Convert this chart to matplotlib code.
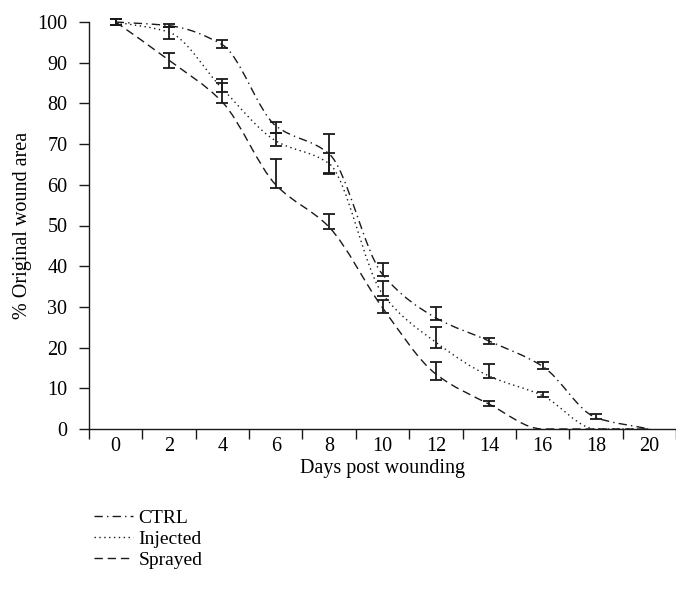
import numpy as np
import matplotlib
matplotlib.use("Agg")
import matplotlib.pyplot as plt
from matplotlib.path import Path
from matplotlib.patches import PathPatch
from matplotlib.lines import Line2D

plt.rcParams['font.family'] = ['Liberation Serif', 'DejaVu Serif']

days = [0, 2, 4, 6, 8, 10, 12, 14, 16, 18, 20]

ctrl = [100, 99.1, 94.4, 74.5, 67.6, 38.0, 27.3, 21.6, 15.4, 2.8, 0]
ctrl_lo = [0.8, 0.4, 0.9, 1.7, 4.8, 0.3, 0.5, 0.7, 0.7, 0.3, 0]
ctrl_hi = [0.8, 0.4, 1.3, 1.0, 4.8, 2.9, 2.6, 0.8, 1.1, 0.9, 0]

inj = [100, 97.5, 83.6, 70.8, 65.2, 33.2, 21.3, 13.0, 8.2, 0, 0]
inj_lo = [0.8, 1.7, 0.7, 1.2, 2.5, 0.5, 1.5, 0.4, 0.4, 0, 0]
inj_hi = [0.8, 1.2, 2.3, 2.0, 2.5, 3.2, 3.7, 3.0, 0.8, 0, 0]

spr = [100, 90.6, 80.3, 60.0, 49.6, 29.8, 13.5, 6.1, 0, 0, 0]
spr_lo = [0.8, 1.8, 0.3, 0.7, 0.5, 1.4, 1.5, 0.4, 0, 0, 0]
spr_hi = [0.8, 1.9, 4.8, 6.3, 3.2, 1.9, 3.0, 0.8, 0, 0, 0]

names = ['CTRL', 'Injected', 'Sprayed']
styles = [(0, (6, 3, 1, 3)), (0, (1, 2.5)), (0, (6, 3.5))]
ink = '#1a1a1a'


def smooth_path(x, y):
    # monotone cubic through the points, drawn as bezier segments
    x = np.asarray(x, float)
    y = np.asarray(y, float)
    h = np.diff(x)
    d = np.diff(y) / h
    m = np.zeros_like(y)
    m[0] = d[0]
    m[-1] = d[-1]
    for i in range(1, len(y) - 1):
        if d[i - 1] * d[i] > 0:
            m[i] = 2.0 / (1.0 / d[i - 1] + 1.0 / d[i])
    verts = [(x[0], y[0])]
    codes = [Path.MOVETO]
    for i in range(len(h)):
        verts += [(x[i] + h[i] / 3, y[i] + m[i] * h[i] / 3),
                  (x[i + 1] - h[i] / 3, y[i + 1] - m[i + 1] * h[i] / 3),
                  (x[i + 1], y[i + 1])]
        codes += [Path.CURVE4] * 3
    return Path(verts, codes)


fig = plt.figure(figsize=(6.76, 5.98), dpi=100)
ax = fig.add_axes([89 / 676, 1 - 429 / 598, 587 / 676, 407 / 598])

series = [(ctrl, ctrl_lo, ctrl_hi), (inj, inj_lo, inj_hi), (spr, spr_lo, spr_hi)]
for (vals, lo, hi), ls in zip(series, styles):
    ax.add_patch(PathPatch(smooth_path(days, vals), fill=False, edgecolor=ink,
                           linewidth=1.0, linestyle=ls, clip_on=False))
    keep = [i for i in range(len(days)) if lo[i] + hi[i] > 0]
    ax.errorbar([days[i] for i in keep], [vals[i] for i in keep],
                yerr=[[lo[i] for i in keep], [hi[i] for i in keep]],
                fmt='none', ecolor=ink, elinewidth=1.3, capsize=4.5,
                capthick=1.3, clip_on=False)

ax.set_xlim(-1, 21)
ax.set_ylim(0, 100)
ax.set_yticks(range(0, 101, 10))
ax.set_xticks(days)
ax.set_xticks(np.arange(-1, 22, 2), minor=True)
ax.spines['top'].set_visible(False)
ax.spines['right'].set_visible(False)
for s in ['left', 'bottom']:
    ax.spines[s].set_linewidth(1.0)
    ax.spines[s].set_color(ink)
ax.tick_params(axis='y', direction='out', length=7.5, width=1.0, color=ink,
               labelsize=14.5, pad=8)
ax.tick_params(axis='x', which='major', length=0, labelsize=14.5, pad=6)
ax.tick_params(axis='x', which='minor', direction='out', length=7, width=1.0,
               color=ink)

ax.set_xlabel('Days post wounding', fontsize=14.5, labelpad=2)
ax.set_ylabel('% Original wound area', fontsize=14.5, labelpad=4)

handles = [Line2D([], [], color=ink, linewidth=1.0, linestyle=ls) for ls in styles]
fig.legend(handles, names, loc='upper left', bbox_to_anchor=(94 / 676, 1 - 509 / 598),
           frameon=False, fontsize=14, handlelength=2.0, handletextpad=0.3,
           labelspacing=0.18, borderpad=0, borderaxespad=0)

fig.savefig('out.png', dpi=100)
